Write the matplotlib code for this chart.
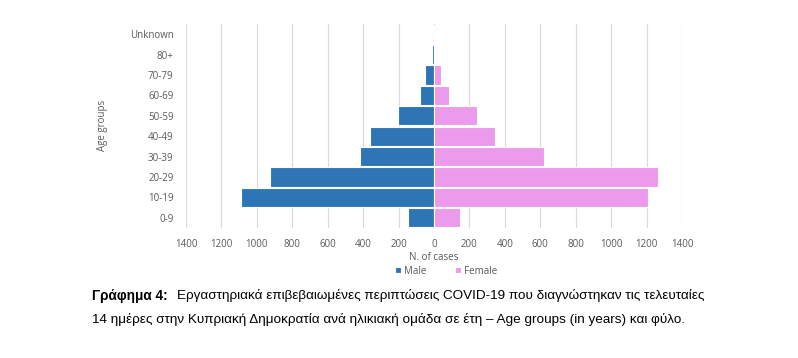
import matplotlib.pyplot as plt
import numpy as np

# age groups, bottom to top
groups = ['0-9', '10-19', '20-29', '30-39', '40-49', '50-59', '60-69', '70-79', '80+', 'Unknown']
male = [146, 1088, 925, 420, 363, 204, 81, 51, 13, 0]
female = [148, 1209, 1265, 621, 343, 240, 87, 42, 6, 0]

ticks = [-1400, -1200, -1000, -800, -600, -400, -200, 0, 200, 400, 600, 800, 1000, 1200, 1400]

c_male = '#2E75B6'
c_female = '#EC9AEC'
txt = '#595959'

fig = plt.figure(figsize=(7.98, 3.58), dpi=100)
ax = fig.add_axes([186/798, 1-228/358, (682-186)/798, 204/358])

y = np.arange(len(groups))
ax.barh(y, -np.array(male), height=0.95, color=c_male, edgecolor='white', linewidth=0.8, label='Male')
ax.barh(y, female, height=0.95, color=c_female, edgecolor='white', linewidth=0.8, label='Female')

ax.set_xlim(-1400, 1400)
ax.set_ylim(-0.5, 9.5)
ax.set_xticks(ticks)
ax.set_xticklabels([str(abs(t)) for t in ticks], fontsize=7, color=txt, family='Open Sans')
ax.set_yticks(y)
ax.set_yticklabels(groups, fontsize=7, color=txt, family='Open Sans')
ax.tick_params(axis='both', length=0)
ax.tick_params(axis='y', pad=9)
ax.tick_params(axis='x', pad=8)
ax.grid(axis='x', color='#D9D9D9', linewidth=0.8)
ax.set_axisbelow(True)
for s in ax.spines.values():
    s.set_visible(False)

ax.set_xlabel('N. of cases', fontsize=7, color=txt, family='Open Sans', labelpad=1)
fig.text(103/798, 1-125/358, 'Age groups', rotation=90, fontsize=7, color=txt,
         family='Open Sans', ha='center', va='center')

h, l = ax.get_legend_handles_labels()
fig.legend(h, l, loc='center', bbox_to_anchor=(446/798, 1-271/358), ncol=2, frameon=False,
           handlelength=0.6, handleheight=0.6, columnspacing=3, handletextpad=0.3,
           labelcolor=txt, prop={'family': 'Open Sans', 'size': 7})

fig.text(92/798, 1-296/358, 'Γράφημα 4:', fontsize=9.8, fontweight='bold', family='Liberation Sans',
         va='center')
fig.text(177/798, 1-296/358, 'Εργαστηριακά επιβεβαιωμένες περιπτώσεις COVID-19 που διαγνώστηκαν τις τελευταίες',
         fontsize=9.7, family='Liberation Sans', va='center')
fig.text(92/798, 1-320/358, '14 ημέρες στην Κυπριακή Δημοκρατία ανά ηλικιακή ομάδα σε έτη – Age groups (in years) και φύλο.',
         fontsize=9.7, family='Liberation Sans', va='center')

fig.savefig('out.png', dpi=100)
